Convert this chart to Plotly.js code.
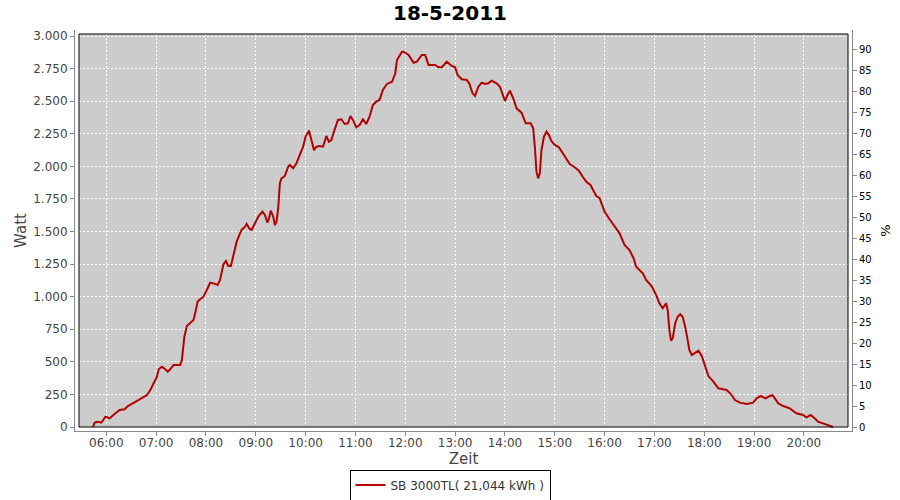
<!DOCTYPE html>
<html>
<head>
<meta charset="utf-8">
<script src="https://cdn.plot.ly/plotly-3.0.1.min.js"></script>
<style>html,body{margin:0;padding:0;background:#fff;}#chart{width:900px;height:500px;}</style>
</head>
<body>
<div id="chart"></div>
<script>
var chartTitle = "18-5-2011";
var dateStr = "2011-05-18";
var seriesName = "SB 3000TL( 21,044 kWh )";

var times = [
 "05:44","05:46","05:50","05:54","05:59",
 "06:04","06:10","06:16","06:22","06:26","06:35","06:43","06:49","06:53","06:57",
 "07:01","07:03","07:07","07:11","07:14","07:17","07:21","07:25","07:29","07:31","07:32","07:34","07:37","07:41","07:45","07:47","07:50","07:53","07:57",
 "08:01","08:05","08:09","08:14","08:17","08:19","08:21","08:24","08:27","08:30","08:33","08:37","08:41","08:43","08:47","08:49","08:52","08:55","08:59",
 "09:03","09:08","09:11","09:14","09:16","09:18","09:21","09:23","09:25","09:27","09:29","09:31","09:35","09:39","09:41","09:45","09:49","09:53","09:57",
 "10:00","10:04","10:07","10:10","10:13","10:17","10:21","10:25","10:28","10:31","10:35","10:39","10:43","10:47","10:51","10:54","10:57",
 "11:01","11:05","11:09","11:13","11:17","11:21","11:25","11:29","11:33","11:38","11:44","11:48","11:50","11:56","11:58",
 "12:04","12:10","12:14","12:20","12:24","12:28","12:36","12:40","12:44","12:50","12:56",
 "13:00","13:03","13:08","13:14","13:17","13:21","13:24","13:28","13:32","13:36","13:40","13:44","13:50","13:54","13:57",
 "14:00","14:03","14:06","14:10","14:14","14:20","14:25","14:31","14:34","14:36","14:38","14:40","14:42","14:44","14:47","14:50","14:53","14:56",
 "15:00","15:05","15:10","15:14","15:18","15:24","15:29","15:34","15:38","15:43","15:46","15:50","15:54",
 "16:00","16:06","16:12","16:18","16:24","16:30","16:35","16:38","16:46","16:50","16:57",
 "17:02","17:06","17:10","17:14","17:16","17:18","17:20","17:22","17:25","17:28","17:31","17:34","17:37","17:40","17:42","17:45","17:49","17:53","17:57",
 "18:01","18:05","18:11","18:17","18:23","18:27","18:32","18:37","18:43","18:51","18:59",
 "19:03","19:08","19:14","19:19","19:22","19:25","19:29","19:35","19:43","19:51","19:59",
 "20:03","20:08","20:13","20:17","20:23","20:29","20:35"
];

var watts = [
 0,33,40,33,79,
 67,100,130,136,161,192,220,245,284,335,
 386,443,463,443,425,443,476,476,476,514,591,693,775,796,821,872,962,980,1000,
 1051,1107,1102,1090,1128,1205,1248,1274,1235,1235,1320,1422,1486,1512,1537,1558,1525,1512,1563,
 1614,1652,1627,1568,1601,1660,1614,1550,1575,1678,1870,1908,1926,1997,2010,1985,2023,2087,2151,
 2228,2274,2202,2125,2151,2156,2151,2233,2189,2202,2284,2356,2361,2325,2330,2386,2356,
 2300,2317,2361,2325,2381,2471,2496,2509,2586,2632,2649,2714,2816,2880,2880,
 2854,2795,2803,2854,2854,2778,2778,2760,2760,2803,2770,
 2760,2701,2668,2663,2637,2560,2540,2611,2642,2632,2637,2657,2637,2611,2547,
 2501,2547,2580,2522,2445,2412,2330,2330,2292,2151,1959,1908,1946,2125,2228,2266,2240,2194,
 2164,2146,2100,2062,2018,1993,1967,1916,1882,1857,1824,1772,1755,
 1652,1594,1542,1486,1397,1358,1294,1230,1179,1128,1077,
 1013,949,911,949,898,744,662,680,796,846,865,846,770,668,591,552,570,585,545,
 463,391,348,297,289,284,253,207,187,176,187,
 220,238,220,238,245,220,182,161,143,105,92,
 74,92,67,41,28,15,0
];

var xs = times.map(function(t){ return dateStr + " " + t + ":00"; });

var trace = {
  x: xs, y: watts, type: "scatter", mode: "lines",
  name: seriesName,
  line: {color: "#b40000", width: 2},
  hoverinfo: "x+y"
};

// plot area 75..852 x 30..431 px ; inner framed area 79..848 x 34..427
var fx0 = 4/777, fx1 = 773/777, fy0 = 4/401, fy1 = 397/401;

var layout = {
  width: 900, height: 500,
  margin: {l: 75, r: 48, t: 30, b: 69, pad: 0},
  paper_bgcolor: "#ffffff",
  plot_bgcolor: "#ffffff",
  separators: ",.",
  font: {family: "DejaVu Sans, sans-serif", size: 12, color: "#444444"},
  title: {text: chartTitle, x: 0.5, xanchor: "center", y: 0.974, yanchor: "middle",
          font: {family: "DejaVu Sans, sans-serif", size: 20, color: "#000000", weight: "bold"}},
  showlegend: true,
  legend: {orientation: "h", xref: "container", yref: "container", x: 0.5, xanchor: "center",
           y: 0.03, yanchor: "middle", bgcolor: "#ffffff", bordercolor: "#000000", borderwidth: 1,
           font: {family: "DejaVu Sans, sans-serif", size: 12, color: "#333333"},
           itemwidth: 30, tracegroupgap: 0},
  xaxis: {
    type: "date",
    range: [dateStr + " 05:22:19", dateStr + " 20:57:54"],
    tickformat: "%H:%M", dtick: 3600000, tick0: dateStr + " 06:00:00",
    showgrid: true, gridcolor: "#ffffff", griddash: "2px,2px", gridwidth: 1,
    zeroline: false,
    showline: true, linecolor: "#888888", linewidth: 1,
    ticks: "outside", ticklen: 4, tickcolor: "#888888",
    ticklabelstandoff: -3,
    tickfont: {size: 12, color: "#444444"},
    title: {text: "Zeit", font: {size: 15, color: "#444444"}, standoff: 3},
    fixedrange: true
  },
  yaxis: {
    range: [-30.69, 3046.0],
    dtick: 250, tick0: 0, tickformat: ",d",
    showgrid: true, gridcolor: "#ffffff", griddash: "2px,2px", gridwidth: 1,
    zeroline: false,
    showline: true, linecolor: "#888888", linewidth: 1,
    ticks: "outside", ticklen: 4, tickcolor: "#888888",
    tickfont: {size: 12, color: "#444444"},
    title: {text: "Watt", font: {size: 15, color: "#444444"}, standoff: 2},
    fixedrange: true
  },
  yaxis2: {
    overlaying: "y", side: "right",
    range: [-0.953, 94.60],
    dtick: 5, tick0: 0,
    showgrid: false, zeroline: false,
    showline: true, linecolor: "#888888", linewidth: 1,
    ticks: "outside", ticklen: 4, tickcolor: "#888888",
    tickfont: {size: 10, color: "#000000"},
    title: {text: "%", font: {size: 13, color: "#000000"}, standoff: 10},
    fixedrange: true
  },
  shapes: [
    {type: "rect", xref: "paper", yref: "paper", x0: fx0, x1: fx1, y0: fy0, y1: fy1,
     fillcolor: "#cccccc", line: {width: 0}, layer: "below"},
    {type: "rect", xref: "paper", yref: "paper", x0: fx0, x1: fx1, y0: fy0, y1: fy1,
     fillcolor: "rgba(0,0,0,0)", line: {width: 1, color: "#000000"}, layer: "above"}
  ]
};

var pctTrace = {x: [xs[0]], y: [0], yaxis: "y2", type: "scatter", mode: "lines",
  showlegend: false, hoverinfo: "skip", line: {color: "rgba(0,0,0,0)"}};

Plotly.newPlot("chart", [trace, pctTrace], layout, {displayModeBar: false, staticPlot: true});
</script>
</body>
</html>
